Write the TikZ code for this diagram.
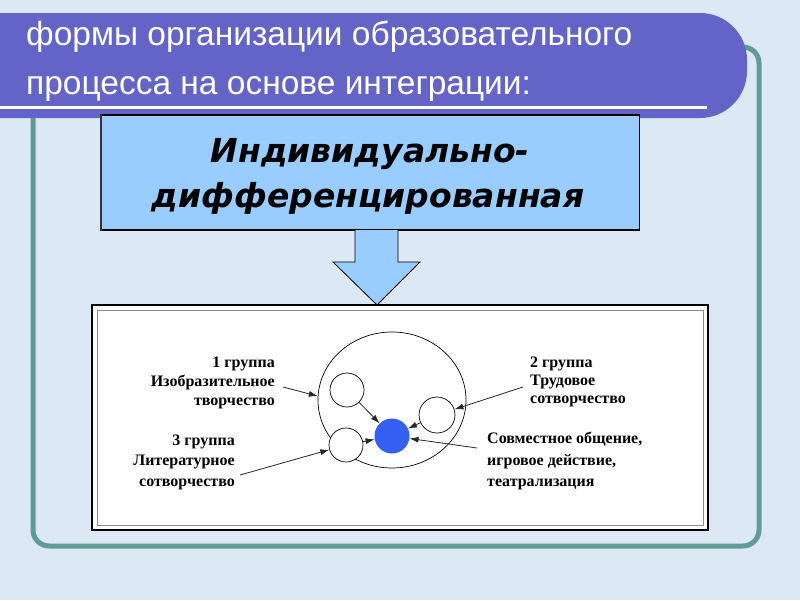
\documentclass[tikz,border=0pt]{standalone}
\usepackage{fontspec}
\setmainfont{Liberation Serif}
\newfontfamily\titlefont{Liberation Sans}
\newfontfamily\boxfont{DejaVu Sans}
\usetikzlibrary{arrows.meta,shapes.geometric}
\definecolor{bgblue}{HTML}{DCE8F4}
\definecolor{bannerc}{HTML}{6464C8}
\definecolor{framec}{HTML}{5F9C96}
\definecolor{lightbox}{HTML}{99CCFF}
\definecolor{dotblue}{HTML}{3360F0}
\tikzset{
  titletext/.style={anchor=base west, text=white, inner sep=0pt, font=\titlefont\fontsize{33.5}{33.5}\selectfont},
  boxtext/.style={anchor=base, inner sep=0pt, font=\boxfont\bfseries\itshape\fontsize{33}{33}\selectfont},
  labr/.style={anchor=base east, inner sep=0pt, font=\bfseries\fontsize{16}{19}\selectfont},
  labl/.style={anchor=base west, inner sep=0pt, font=\bfseries\fontsize{16}{19}\selectfont},
  smallc/.style={circle, draw, fill=white, line width=0.7pt, inner sep=0pt},
  conn/.style={draw=black!85, line width=0.8pt, -{Latex[length=9pt,width=6pt]}}
}
\begin{document}
\begin{tikzpicture}[x=1pt,y=-1pt]
\useasboundingbox (0,0) rectangle (800,600);
\fill[bgblue] (0,0) rectangle (800,600);
% teal frame
\draw[framec, line width=5pt, rounded corners=16pt] (33,47) rectangle (759,546);
% banner
\fill[bannerc] (0,13) -- (700,13) arc(-90:0:47) -- (747,71) arc(0:90:47) -- (0,118) -- cycle;
\draw[white, line width=3pt] (0,107) -- (707,107);
\node[titletext] (t1) at (26,45) {формы организации образовательного};
\node[titletext] (t2) at (26,94) {процесса на основе интеграции:};
% light blue box
\node[draw=black, fill=lightbox, line width=1.2pt, minimum width=538pt, minimum height=115pt, inner sep=0pt] (hbox) at (370.5,172.5) {};
\draw[black!80, line width=2.2pt] (hbox.north west) -- (hbox.south west);
\node[boxtext] (h1) at (370,162) {Индивидуально-};
\node[boxtext] (h2) at (368,207) {дифференцированная};
% block arrow
\draw[fill=lightbox, line width=0.8pt] (355,230) -- (355,262) -- (333,262) -- (377,305) -- (420,262) -- (398,262) -- (398,230);
% white box
\draw[fill=white, line width=2.5pt] (92,305) rectangle (708,530);
\draw[black!45, line width=0.8pt] (97,310) rectangle (703,525);
% circles
\node[ellipse, draw, line width=0.7pt, minimum width=148pt, minimum height=136pt, inner sep=0pt] (big) at (392,400) {};
\node[smallc, minimum size=34pt] (c1) at (347,390) {};
\node[smallc, minimum size=36pt] (c2) at (437,415) {};
\node[smallc, minimum size=34pt] (c3) at (346,445) {};
\node[circle, fill=dotblue, inner sep=0pt, minimum size=35pt] (blue) at (392,436) {};
% labels
\node[labr] (g1a) at (275,367) {1 группа};
\node[labr] (g1b) at (275,386) {Изобразительное};
\node[labr] (g1c) at (275,405) {творчество};
\node[labr] (g3a) at (235,445) {3 группа};
\node[labr] (g3b) at (235,465) {Литературное};
\node[labr] (g3c) at (235,486) {сотворчество};
\node[labl] (g2a) at (530,367) {2 группа};
\node[labl] (g2b) at (530,385) {Трудовое};
\node[labl] (g2c) at (530,403) {сотворчество};
\node[labl] (g4a) at (487,443) {Совместное общение,};
\node[labl] (g4b) at (487,465) {игровое действие,};
\node[labl] (g4c) at (487,486) {театрализация};
% connectors
\coordinate (s1) at (283,387);
\coordinate (s2) at (523,387);
\coordinate (s3) at (240,475);
\coordinate (s4) at (477,448);
\draw[conn] (s1) -- (big.177);
\draw[conn] (s2) -- (c2);
\draw[conn] (s3) -- (c3);
\draw[conn] (s4) -- (blue);
\draw[conn] (c1) -- (blue);
\draw[conn] (c3) -- (blue);
\draw[conn] (c2) -- (blue);
\end{tikzpicture}
\end{document}
